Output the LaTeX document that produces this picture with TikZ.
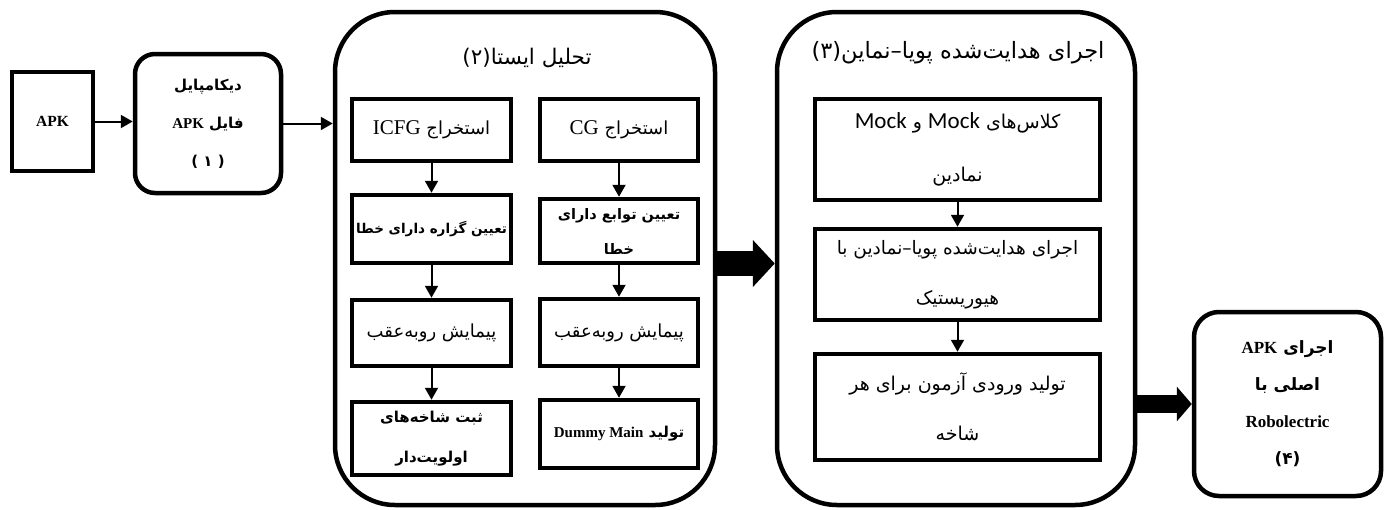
\documentclass[tikz,border=0pt]{standalone}
\usepackage{fontspec}
\usetikzlibrary{positioning, arrows.meta}
\setmainfont{Liberation Serif}
\newfontfamily\fafont[Script=Arabic]{DejaVu Sans}
\newfontfamily\mockfont{Carlito}
\TeXXeTstate=1
\newcommand{\fa}[1]{{\fafont\beginR #1\endR}}
\newcommand{\lat}[1]{{\rmfamily\beginL #1\endL}}

\begin{document}
\begin{tikzpicture}[x=1pt, y=-1pt, >=Stealth,
    box/.style={draw, line width=4.5pt, align=center, inner sep=2pt},
    rbox/.style={box, rounded corners=#1},
    thin/.style={-{Triangle[length=12pt,width=13pt]}, line width=2pt},
    fat/.style={-{Triangle[length=22pt,width=46pt]}, line width=25pt},
    bld/.style={font=\fontsize{14.5}{38}\selectfont\bfseries},
    reg/.style={font=\fontsize{18}{50}\selectfont},
    ttl/.style={font=\fontsize{21.5}{26}\selectfont}]
  \useasboundingbox (0,0) rectangle (1386,509);

  % input and decompile
  \node[box, minimum width=81, minimum height=99, font=\fontsize{15.5}{18}\selectfont\bfseries] (apk) at (52.5,121.5) {APK};
  \node[rbox=20pt, minimum width=146, minimum height=139, font=\fontsize{15}{38}\selectfont\bfseries] (decomp) at (208,123.5)
    {\fa{دیکامپایل}\\\fa{فایل \lat{APK}}\\\fa{( ۱ )}};

  % static analysis
  \node[rbox=60pt, minimum width=380, minimum height=493] (static) at (525,258.5) {};
  \node[ttl] (stitle) at (527,58) {\fa{تحلیل ایستا(۲)}};

  \node[box, minimum width=159, minimum height=62, reg] (icfg) at (431.5,130)
    {\fa{استخراج {\fontsize{21}{24}\selectfont\rmfamily ICFG}}};
  \node[box, minimum width=159, minimum height=68, inner sep=0pt, font=\fontsize{13.5}{20}\selectfont\bfseries] (stmt) at (431.5,229)
    {\fa{تعیین گزاره دارای خطا}};
  \node[box, minimum width=159, minimum height=66, reg] (bwl) at (431.5,333)
    {\fa{پیمایش روبه^^^^200cعقب}};
  \node[box, minimum width=159, minimum height=73, font=\fontsize{15}{40}\selectfont\bfseries] (prio) at (431.5,438.5)
    {\fa{ثبت شاخه^^^^200cهای}\\\fa{اولویت^^^^200cدار}};

  \node[box, minimum width=158, minimum height=62, reg] (cg) at (619,130)
    {\fa{استخراج {\fontsize{21}{24}\selectfont\rmfamily CG}}};
  \node[box, minimum width=158, minimum height=64, font=\fontsize{14.5}{35}\selectfont\bfseries] (func) at (619,231)
    {\fa{تعیین توابع دارای}\\\fa{خطا}};
  \node[box, minimum width=158, minimum height=67, reg] (bwr) at (619,332.5)
    {\fa{پیمایش روبه^^^^200cعقب}};
  \node[box, minimum width=158, minimum height=68, font=\fontsize{15}{20}\selectfont\bfseries] (dummy) at (619,434)
    {\fa{تولید \lat{Dummy Main}}};

  % dynamic symbolic execution
  \node[rbox=60pt, minimum width=358, minimum height=493] (dyn) at (956,258.5) {};
  \node[ttl, font=\fontsize{22.5}{26}\selectfont] (dtitle) at (958,53) {\fa{اجرای هدایت^^^^200cشده پویا–نماین(۳)}};

  \node[box, minimum width=285, minimum height=101, font=\fontsize{19}{53}\selectfont] (mock) at (957.5,149.5)
    {\fa{کلاس^^^^200cهای {\mockfont\fontsize{23}{24}\selectfont Mock} و {\mockfont\fontsize{23}{24}\selectfont Mock}}\\\fa{نمادین}};
  \node[box, minimum width=285, minimum height=91, font=\fontsize{18.5}{50}\selectfont] (dse) at (957.5,274.5)
    {\fa{اجرای هدایت^^^^200cشده پویا–نمادین با}\\\fa{هیوریستیک}};
  \node[box, minimum width=285, minimum height=106, font=\fontsize{19}{50}\selectfont] (gen) at (957.5,407)
    {\fa{تولید ورودی آزمون برای هر}\\\fa{شاخه}};

  % run on Robolectric
  \node[rbox=25pt, minimum width=187, minimum height=184, font=\fontsize{17}{37}\selectfont\bfseries] (run) at (1287.5,404)
    {\fa{اجرای \lat{APK}}\\\fa{اصلی با}\\Robolectric\\\fa{(۴)}};

  % connectors
  \draw[thin] (apk.east) -- (apk.east -| decomp.west);
  \draw[thin] (decomp.east) -- (decomp.east -| static.west);
  \draw[thin] (icfg) -- (stmt);
  \draw[thin] (stmt) -- (bwl);
  \draw[thin] (bwl) -- (prio);
  \draw[thin] (cg) -- (func);
  \draw[thin] (func) -- (bwr);
  \draw[thin] (bwr) -- (dummy);
  \draw[thin] (mock) -- (dse);
  \draw[thin] (dse) -- (gen);
  \draw[fat] ([yshift=-5pt]static.east) -- ([yshift=-5pt]dyn.west);
  \draw[-{Triangle[length=15pt,width=34pt]}, line width=18pt] (dyn.east |- run.west) -- (run.west);
\end{tikzpicture}
\end{document}
